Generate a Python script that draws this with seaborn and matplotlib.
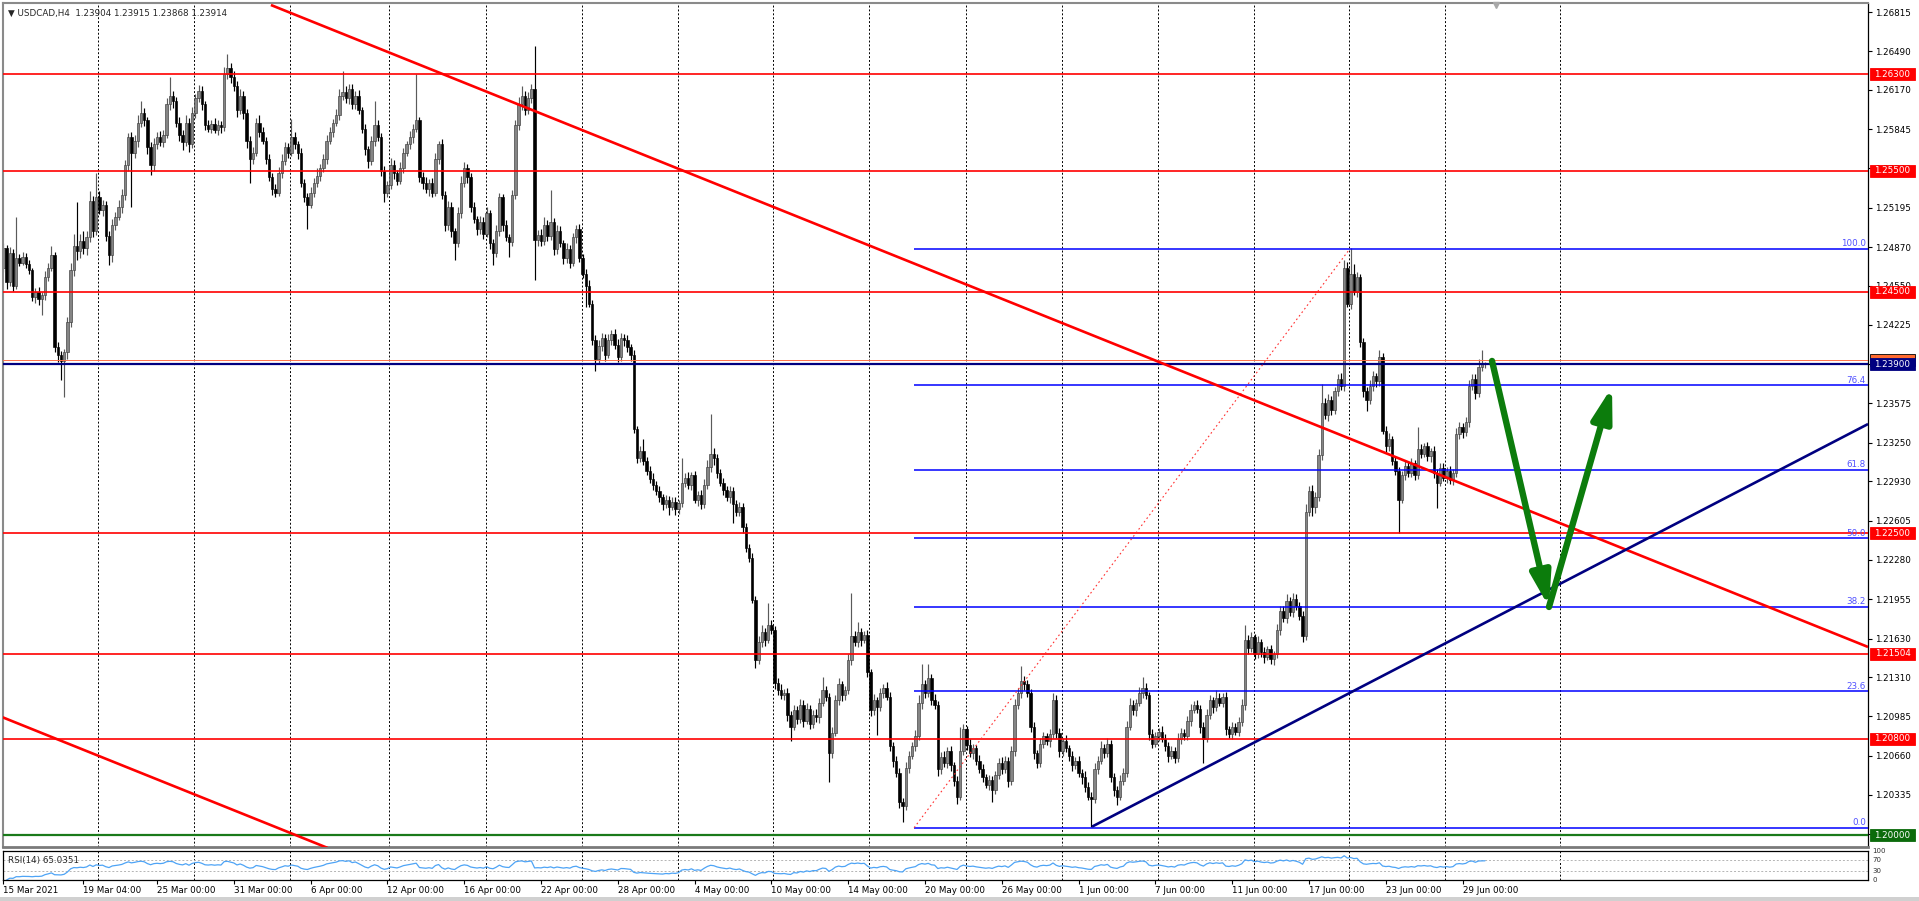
import numpy as np
import pandas as pd
import matplotlib
matplotlib.use('Agg')
import matplotlib.pyplot as plt
import matplotlib.transforms as mtransforms
from matplotlib.patches import Rectangle
import seaborn as sns

# USDCAD H4 candles, 15 Mar 2021 -> 30 Jun 2021
# prices are kept in pips above 1.20000 (1 pip = 0.0001)
first_open = 470
close_pips = [
    486, 458, 482, 455, 478, 474, 479, 473, 468, 446,
    450, 444, 447, 462, 470, 480, 404, 398, 393, 400,
    425, 468, 488, 484, 492, 486, 495, 525, 500, 528,
    518, 522, 496, 480, 505, 512, 520, 530, 555, 578,
    565, 575, 590, 598, 592, 570, 555, 572, 578, 574,
    580, 605, 612, 608, 590, 580, 574, 590, 572, 598,
    610, 616, 605, 588, 585, 589, 584, 588, 586, 630,
    635, 628, 620, 600, 612, 598, 575, 560, 565, 590,
    582, 575, 560, 545, 535, 532, 548, 558, 570, 565,
    578, 572, 565, 540, 528, 522, 532, 540, 546, 552,
    560, 575, 582, 590, 596, 612, 615, 610, 618, 605,
    612, 600, 585, 568, 558, 575, 588, 578, 550, 532,
    538, 555, 548, 542, 552, 565, 572, 578, 585, 592,
    545, 540, 535, 540, 532, 560, 572, 530, 505, 520,
    500, 490, 515, 540, 552, 545, 520, 510, 502, 508,
    498, 515, 490, 482, 500, 528, 505, 495, 491, 530,
    588, 605, 612, 600, 610, 618, 493, 497, 492, 505,
    496, 508, 485, 500, 490, 478, 485, 474, 495, 502,
    478, 465, 455, 440, 410, 394, 405, 412, 398, 410,
    415, 406, 396, 412, 410, 404, 398, 336, 312, 318,
    310, 302, 295, 290, 285, 280, 274, 278, 272, 276,
    270, 275, 292, 296, 290, 298, 278, 282, 274, 290,
    305, 316, 312, 300, 292, 286, 280, 285, 274, 268,
    272, 255, 238, 230, 195, 145, 160, 168, 162, 174,
    170, 126, 120, 116, 118, 100, 90, 104, 96, 108,
    95, 105, 92, 100, 98, 110, 120, 115, 68, 85,
    112, 125, 116, 120, 145, 165, 160, 168, 162, 166,
    135, 104, 112, 106, 118, 122, 115, 74, 62, 52,
    28, 24, 56, 66, 74, 82, 110, 125, 118, 130,
    112, 108, 55, 65, 60, 70, 58, 45, 32, 70,
    88, 75, 68, 72, 62, 55, 48, 42, 46, 38,
    50, 60, 55, 62, 45, 70, 108, 118, 128, 125,
    118, 90, 68, 60, 76, 82, 78, 84, 112, 85,
    70, 78, 72, 66, 58, 62, 52, 48, 40, 32,
    30, 55, 62, 72, 68, 76, 48, 38, 32, 45,
    52, 90, 108, 104, 110, 118, 122, 116, 84, 76,
    82, 86, 80, 74, 66, 70, 64, 80, 85, 82,
    95, 104, 108, 105, 90, 80, 100, 112, 106, 114,
    110, 115, 88, 84, 90, 86, 94, 108, 162, 155,
    164, 150, 160, 152, 148, 154, 146, 150, 170, 186,
    180, 194, 185, 196, 190, 182, 165, 268, 285, 272,
    280, 315, 358, 348, 360, 352, 368, 378, 372, 470,
    440, 465, 450, 462, 408, 368, 360, 372, 380, 376,
    396, 335, 322, 328, 310, 302, 278, 298, 306, 300,
    308, 298, 320, 316, 322, 314, 318, 300, 292, 304,
    296, 302, 294, 300, 332, 338, 334, 342, 372, 378,
    366, 388, 390.4, 391.4,
]
# how far the high sits above the body, in pips
wick_up = [
    4, 3, 5, 3, 34, 3, 4, 3, 3, 2,
    3, 4, 3, 5, 4, 8, 3, 4, 3, 3,
    4, 6, 10, 36, 6, 8, 5, 8, 4, 20,
    5, 4, 3, 4, 5, 4, 6, 5, 4, 3,
    4, 5, 6, 10, 4, 3, 4, 5, 4, 5,
    4, 5, 16, 4, 3, 5, 4, 6, 4, 5,
    4, 5, 4, 3, 4, 3, 5, 4, 3, 6,
    12, 4, 5, 4, 6, 4, 3, 4, 5, 4,
    6, 4, 3, 4, 3, 4, 5, 6, 4, 3,
    15, 4, 3, 4, 3, 4, 5, 4, 6, 4,
    4, 5, 4, 3, 5, 6, 18, 5, 4, 4,
    4, 5, 3, 4, 3, 4, 20, 4, 3, 4,
    4, 6, 4, 3, 5, 4, 3, 5, 4, 38,
    3, 4, 5, 3, 4, 5, 3, 4, 3, 5,
    4, 3, 5, 6, 5, 4, 3, 4, 3, 5,
    4, 5, 3, 4, 5, 4, 3, 4, 3, 4,
    4, 6, 8, 4, 5, 4, 35, 4, 5, 7,
    4, 26, 3, 5, 4, 3, 5, 4, 4, 3,
    4, 3, 4, 5, 3, 4, 5, 4, 3, 5,
    3, 4, 5, 4, 3, 4, 3, 4, 3, 4,
    10, 3, 4, 5, 3, 4, 3, 4, 3, 4,
    4, 3, 20, 4, 5, 3, 4, 3, 4, 5,
    6, 33, 5, 4, 3, 4, 3, 4, 3, 4,
    4, 3, 4, 3, 4, 3, 5, 6, 4, 18,
    4, 3, 4, 5, 3, 4, 3, 4, 3, 5,
    4, 5, 3, 4, 5, 4, 11, 4, 3, 5,
    4, 5, 3, 4, 5, 36, 4, 9, 4, 3,
    4, 3, 5, 3, 4, 3, 5, 4, 3, 4,
    4, 3, 5, 4, 3, 5, 6, 17, 4, 12,
    4, 5, 3, 4, 5, 3, 4, 3, 4, 20,
    4, 3, 5, 4, 3, 5, 4, 3, 4, 3,
    3, 4, 5, 4, 3, 4, 5, 4, 12, 4,
    4, 3, 4, 3, 5, 4, 3, 4, 6, 4,
    4, 3, 5, 3, 4, 3, 4, 3, 5, 4,
    4, 5, 4, 6, 4, 5, 3, 4, 3, 5,
    4, 5, 6, 4, 3, 5, 9, 4, 3, 4,
    4, 3, 5, 4, 3, 4, 3, 5, 4, 3,
    4, 5, 3, 4, 3, 4, 5, 4, 3, 6,
    4, 3, 4, 3, 4, 3, 4, 5, 12, 4,
    4, 3, 5, 3, 4, 3, 4, 3, 5, 4,
    4, 6, 3, 5, 4, 3, 4, 6, 4, 5,
    4, 5, 16, 4, 5, 4, 3, 4, 5, 6,
    5, 21, 8, 4, 3, 4, 3, 5, 4, 3,
    6, 3, 4, 5, 3, 4, 3, 4, 5, 4,
    4, 3, 18, 4, 3, 4, 3, 4, 3, 4,
    4, 3, 4, 3, 5, 4, 3, 4, 5, 4,
    4, 6, 11.6, 0.1,
]
# how far the low sits below the body, in pips
wick_dn = [
    4, 6, 3, 4, 3, 3, 2, 3, 3, 4,
    5, 5, 13, 4, 3, 3, 4, 6, 16, 30,
    6, 4, 5, 8, 6, 5, 6, 4, 5, 3,
    4, 5, 4, 8, 5, 4, 3, 5, 4, 5,
    45, 4, 5, 4, 5, 6, 8, 5, 4, 3,
    4, 3, 5, 6, 4, 5, 7, 3, 6, 3,
    4, 3, 5, 4, 3, 4, 3, 4, 5, 3,
    4, 5, 4, 5, 3, 5, 6, 20, 4, 3,
    4, 3, 4, 3, 5, 4, 3, 4, 3, 4,
    3, 4, 5, 3, 4, 20, 3, 4, 3, 4,
    3, 4, 3, 4, 3, 4, 3, 4, 5, 4,
    4, 3, 4, 5, 6, 3, 4, 3, 4, 8,
    4, 3, 5, 4, 3, 4, 3, 4, 5, 3,
    4, 5, 3, 6, 4, 3, 4, 3, 5, 4,
    5, 14, 3, 4, 3, 5, 4, 3, 5, 4,
    4, 3, 5, 10, 3, 4, 5, 3, 12, 3,
    3, 4, 5, 4, 3, 4, 33, 5, 4, 3,
    4, 3, 5, 4, 3, 5, 4, 4, 3, 5,
    3, 4, 18, 3, 4, 10, 3, 4, 5, 3,
    4, 3, 4, 3, 5, 4, 5, 3, 4, 3,
    3, 4, 3, 4, 3, 4, 5, 3, 7, 3,
    5, 4, 3, 4, 3, 4, 3, 5, 4, 3,
    3, 4, 5, 4, 3, 4, 3, 5, 15, 4,
    4, 5, 3, 4, 3, 6, 3, 4, 5, 3,
    3, 5, 4, 3, 4, 5, 12, 3, 4, 3,
    5, 3, 4, 3, 4, 5, 3, 4, 24, 4,
    3, 4, 5, 4, 3, 4, 3, 4, 5, 3,
    4, 5, 4, 23, 3, 4, 3, 4, 5, 4,
    5, 13, 3, 4, 3, 4, 3, 5, 4, 3,
    4, 3, 6, 4, 3, 4, 5, 4, 6, 3,
    3, 4, 3, 5, 4, 3, 4, 3, 4, 10,
    4, 3, 4, 3, 5, 3, 4, 3, 4, 5,
    3, 4, 5, 4, 3, 4, 3, 5, 3, 4,
    5, 4, 3, 4, 5, 3, 4, 5, 4, 3,
    23, 3, 4, 3, 4, 3, 4, 5, 7, 3,
    3, 4, 3, 4, 5, 3, 4, 3, 5, 4,
    3, 4, 3, 4, 5, 3, 4, 3, 4, 3,
    3, 4, 3, 4, 5, 20, 3, 4, 5, 3,
    3, 4, 5, 3, 4, 3, 4, 3, 4, 5,
    3, 4, 3, 4, 5, 3, 4, 5, 3, 4,
    3, 4, 3, 4, 3, 4, 5, 3, 4, 8,
    5, 3, 4, 3, 5, 4, 3, 4, 3, 4,
    3, 4, 3, 4, 4, 5, 9, 3, 4, 5,
    4, 3, 5, 4, 3, 4, 28, 3, 4, 3,
    3, 4, 3, 4, 3, 4, 5, 4, 21, 3,
    3, 4, 3, 4, 3, 4, 5, 3, 4, 3,
    5, 3, 4, 3.6,
]

date_labels = ['15 Mar 2021', '19 Mar 04:00', '25 Mar 00:00', '31 Mar 00:00',
               '6 Apr 00:00', '12 Apr 00:00', '16 Apr 00:00', '22 Apr 00:00',
               '28 Apr 00:00', '4 May 00:00', '10 May 00:00', '14 May 00:00',
               '20 May 00:00', '26 May 00:00', '1 Jun 00:00', '7 Jun 00:00',
               '11 Jun 00:00', '17 Jun 00:00', '23 Jun 00:00', '29 Jun 00:00']
date_bars = [0, 25, 48, 72, 96, 120, 144, 168, 192, 216, 240, 264, 288, 312,
             336, 360, 384, 408, 432, 456]
grid_bars = [29.6, 59.6, 89.6, 120.5, 150.8, 180.8, 210.8, 240.5, 270.5,
             300.8, 330.8, 360.8, 390.8, 420.5, 450.5, 486.4]

price_ticks = [1.26815, 1.26490, 1.26170, 1.25845, 1.25520, 1.25195, 1.24870,
               1.24550, 1.24225, 1.23900, 1.23575, 1.23250, 1.22930, 1.22605,
               1.22280, 1.21955, 1.21630, 1.21310, 1.20985, 1.20660, 1.20335,
               1.20010]

red_levels = [1.26300, 1.25500, 1.24500, 1.22500, 1.21504, 1.20800]
navy_level = 1.23900
green_level = 1.20000
ask_level = 1.23935

fib_low, fib_high = 1.20064, 1.24856
fib_pcts = [0.0, 23.6, 38.2, 50.0, 61.8, 76.4, 100.0]
fib_start_bar = 284.6

# drawn objects: (bars, prices)
down_trend = ([83.6, 582.7], [1.26873, 1.21560])
channel_low = ([-1.0, 101.3], [1.20986, 1.19897])
up_trend = ([340.2, 582.7], [1.20073, 1.23405])
fib_diag = ([284.6, 420.8], [1.20064, 1.24856])
arrow_bars = [465.2, 483.0, 502.7]
arrow_prices = [1.23927, 1.21891, 1.23712]

# ---- build candles ----
close = 1.2 + np.array(close_pips, dtype=float) / 10000
opens = np.concatenate([[1.2 + first_open / 10000], close[:-1]])
highs = np.maximum(opens, close) + np.array(wick_up) / 10000
lows = np.minimum(opens, close) - np.array(wick_dn) / 10000
bars = np.arange(len(close))
bull = close >= opens

delta = pd.Series(close).diff()
gain = delta.clip(lower=0).ewm(alpha=1 / 14, adjust=False).mean()
loss = (-delta).clip(lower=0).ewm(alpha=1 / 14, adjust=False).mean()
rsi_df = pd.DataFrame({'bar': bars, 'rsi': 100 - 100 / (1 + gain / loss)})

sns.set_theme(style="white")
plt.rcParams['font.family'] = ['DejaVu Sans']
FS = 6.3

W, H = 1919, 901
fig = plt.figure(figsize=(W / 100, H / 100), dpi=100, facecolor='white')
ax = fig.add_axes([3 / W, 1 - 847 / H, 1865 / W, 844 / H])
ax_rsi = fig.add_axes([3 / W, 1 - 880 / H, 1865 / W, 29 / H])

x_lo, x_hi = -0.125, 582.69
ax.set_xlim(x_lo, x_hi)
ax.set_ylim(1.199045, 1.268895)

for g in grid_bars:
    for a in (ax, ax_rsi):
        a.axvline(g, color='black', lw=0.7, ls=(0, (2, 2)), zorder=0.5)

# candles
body_col = np.where(bull, '#858585', '#000000')
edge_col = np.where(bull, '#3c3c3c', '#000000')
wick_col = np.where(bull, '#5a5a5a', '#000000')
ax.vlines(bars, lows, highs, colors=wick_col, lw=0.85, zorder=1.9)
ax.bar(bars, np.maximum(np.abs(close - opens), 0.00003),
       bottom=np.minimum(opens, close), width=0.8, color=body_col,
       edgecolor=edge_col, linewidth=0.45, zorder=2)

# horizontal levels
for lv in red_levels:
    ax.axhline(lv, color='#ff0000', lw=1.2, zorder=3)
ax.axhline(ask_level, color='#ff7048', lw=0.7, zorder=3)
ax.axhline(navy_level, color='#000080', lw=1.6, zorder=3)
ax.axhline(green_level, color='#1a7a1a', lw=1.6, zorder=3)

# fibonacci retracement
fib_prices = [fib_low + (fib_high - fib_low) * p / 100 for p in fib_pcts]
ax.hlines(fib_prices, fib_start_bar, x_hi, color='#0000ff', lw=1.1, zorder=3)
for p, fp in zip(fib_pcts, fib_prices):
    ax.text(582.0, fp + 0.00004, f'{p:.1f}', color='#5050ff', fontsize=FS,
            ha='right', va='bottom', zorder=4)
ax.plot(*fib_diag, color='#ff3030', lw=0.8, ls=(0, (1.5, 2.5)), zorder=3)

# trend lines
ax.plot(*down_trend, color='#ff0000', lw=1.9, zorder=3, solid_capstyle='butt')
ax.plot(*channel_low, color='#ff0000', lw=1.9, zorder=3, solid_capstyle='butt')
ax.plot(*up_trend, color='#000080', lw=1.9, zorder=3, solid_capstyle='butt')

# green forecast arrows
for i in range(len(arrow_bars) - 1):
    ax.annotate('', xy=(arrow_bars[i + 1], arrow_prices[i + 1]),
                xytext=(arrow_bars[i], arrow_prices[i]),
                arrowprops=dict(arrowstyle='-|>,head_length=1.0,head_width=0.3',
                                color='#0c7c0c', lw=4.6, mutation_scale=20,
                                shrinkA=0, shrinkB=0),
                zorder=6)

# right price axis
ax.yaxis.tick_right()
ax.set_yticks(price_ticks)
ax.set_yticklabels([f'{v:.5f}' for v in price_ticks])
ax.tick_params(axis='y', right=True, direction='out', length=3, width=0.8,
               labelsize=FS, pad=2, colors='black')
ax.set_xticks([])
for side in ('top', 'left'):
    ax.spines[side].set_color('#8a8a8a')
    ax.spines[side].set_linewidth(1.5)
ax.spines['right'].set_color('black')
ax.spines['right'].set_linewidth(0.9)
ax.spines['bottom'].set_color('#7a7a7a')
ax.spines['bottom'].set_linewidth(2.0)

# coloured price labels on the axis
px = 1 / 12083
tr = mtransforms.blended_transform_factory(fig.transFigure, ax.transData)
boxes = [(ask_level, '#ff6a30', '')]
boxes += [(lv, '#ff0000', f'{lv:.5f}') for lv in red_levels]
boxes += [(navy_level, '#000080', f'{navy_level:.5f}'),
          (green_level, '#0b6b0b', f'{green_level:.5f}')]
for lv, col, txt in boxes:
    ax.add_patch(Rectangle((1870 / W, lv - 6 * px), 45 / W, 12 * px,
                           transform=tr, facecolor=col,
                           edgecolor='black' if txt == '' else col, lw=0.6,
                           clip_on=False, zorder=7))
    if txt:
        ax.text(1892.5 / W, lv, txt, transform=tr, color='white', fontsize=FS,
                ha='center', va='center', zorder=8, clip_on=False)

ax.plot(466.4, 1.26875, marker='v', color='#a8a8a8', ms=4, clip_on=False,
        zorder=5)

# RSI panel
ax_rsi.set_xlim(x_lo, x_hi)
ax_rsi.set_ylim(0, 100)
for lv in (70, 30):
    ax_rsi.axhline(lv, color='#b4b4b4', lw=0.7, ls=(0, (2, 2)), zorder=1)
sns.lineplot(data=rsi_df, x='bar', y='rsi', ax=ax_rsi, color='#4ea4f6',
             lw=0.9, zorder=2)
ax_rsi.set_xlabel('')
ax_rsi.set_ylabel('')
ax_rsi.set_yticks([])
ax_rsi.set_xticks(date_bars)
ax_rsi.set_xticklabels(date_labels)
for lbl in ax_rsi.get_xticklabels():
    lbl.set_ha('left')
ax_rsi.tick_params(axis='x', bottom=True, direction='out', length=3,
                   width=0.8, labelsize=FS, pad=1.5, colors='black')
for s in ax_rsi.spines.values():
    s.set_color('black')
    s.set_linewidth(0.9)
fig.text(8 / W, 1 - 860 / H, 'RSI(14) 65.0351', fontsize=FS, va='center',
         ha='left')
rsi_tr = mtransforms.blended_transform_factory(fig.transFigure, ax_rsi.transData)
for lab, val in (('100', 100), ('70', 70), ('30', 30), ('0', 0)):
    ax_rsi.text(1872 / W, val, lab, transform=rsi_tr, fontsize=5.0,
                va='center', color='#303030', clip_on=False)

fig.text(8 / W, 1 - 13 / H, '\u25bc USDCAD,H4  1.23904 1.23915 1.23868 1.23914',
         fontsize=FS, va='center', ha='left')
fig.patches.append(Rectangle((0, 0), 1, 4 / H, transform=fig.transFigure,
                             facecolor='#d0d0d0', edgecolor='none'))

fig.savefig('out.png', dpi=100, facecolor='white')
plt.close(fig)
